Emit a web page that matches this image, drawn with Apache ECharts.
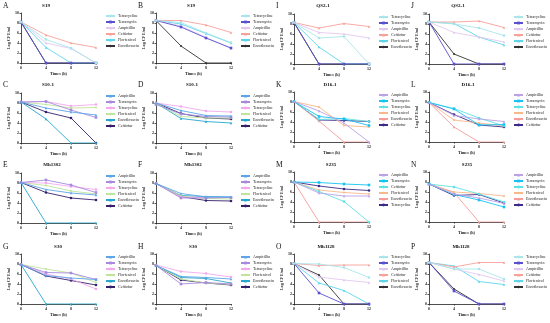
<!DOCTYPE html>
<html>
<head>
<meta charset="utf-8">
<script src="https://cdn.jsdelivr.net/npm/echarts@6/dist/echarts.min.js"></script>
<style>
  html, body { margin: 0; padding: 0; background: #fff; }
  #chart { width: 550px; height: 323px; }
</style>
</head>
<body>
<div id="chart"></div>
<script>
// time points (h)
const times = [0, 4, 8, 12];

// legend orders used by the panels
const drugs1 = ['Tetracycline', 'Terramycin', 'Ampicillin', 'Ceftiofur', 'Florfenicol', 'Enrofloxacin'];
const drugs2 = ['Ampicillin', 'Terramycin', 'Tetracycline', 'Florfenicol', 'Enrofloxacin', 'Ceftiofur'];
const drugsM = ['Ampicillin', 'Terramycin', 'Ceftiofur', 'Florfenicol', 'Enrofloxacin', 'Tetracycline'];

const panelLetters = ['A', 'B', 'C', 'D', 'E', 'F', 'G', 'H', 'I', 'J', 'K', 'L', 'M', 'N', 'O', 'P'];
const panelStrains = ['S19', 'S19', 'S10-1', 'S10-1', 'Mh1302', 'Mh1302', 'S30', 'S30',
  'QS2-1', 'QS2-1', 'D16-1', 'D16-1', 'S235', 'S235', 'Mh1128', 'Mh1128'];

// Log CFU/ml, one row per drug in legend order
const valuesA = [[8.2, 4.7, 3.0, 0], [8.2, 0, 0, 0], [8.2, 4.0, 2.9, 0], [8.2, 5.6, 4.0, 3.1], [8.2, 3.1, 0, 0], [8.2, 0, 0, 0]];
const valuesB = [[8.5, 8.1, 6.0, 4.1], [8.5, 7.2, 5.0, 3.0], [8.5, 7.4, 5.1, 2.9], [8.5, 8.5, 7.6, 6.1], [8.5, 7.8, 5.9, 4.0], [8.5, 3.4, 0, 0]];
const valuesC = [[8.2, 7.0, 6.2, 5.6], [8.2, 8.3, 6.6, 5.1], [8.2, 8.3, 7.4, 7.7], [8.2, 7.7, 7.0, 7.1], [8.2, 4.8, 0, 0], [8.2, 6.2, 5.0, 0]];
const valuesD = [[8.0, 6.5, 5.5, 5.4], [7.7, 5.8, 5.3, 5.2], [8.0, 7.3, 6.4, 6.2], [8.0, 5.3, 5.0, 5.0], [8.0, 4.9, 4.3, 4.0], [8.0, 5.9, 5.0, 4.8]];
const valuesE = [[8.1, 6.7, 6.0, 5.6], [8.1, 8.6, 7.6, 6.1], [8.1, 8.0, 7.3, 6.7], [8.1, 7.5, 6.4, 5.8], [8.1, 0, 0, 0], [8.1, 6.1, 5.0, 4.6]];
const valuesF = [[7.9, 5.9, 5.2, 5.2], [7.9, 5.0, 5.0, 5.1], [7.9, 5.2, 5.1, 5.1], [7.9, 5.4, 4.9, 4.8], [7.9, 5.5, 5.3, 5.2], [7.9, 5.3, 4.5, 4.4]];
const valuesG = [[7.9, 5.7, 5.2, 4.9], [7.9, 6.3, 6.2, 4.9], [7.9, 6.0, 5.0, 3.0], [7.9, 7.0, 6.2, 4.3], [7.9, 0, 0, 0], [7.9, 5.6, 4.7, 3.8]];
const valuesH = [[7.7, 5.5, 5.3, 5.0], [7.7, 4.0, 4.3, 4.0], [7.8, 6.5, 6.1, 5.4], [7.7, 5.0, 4.2, 3.9], [7.7, 5.3, 5.1, 4.2], [7.7, 4.8, 4.2, 3.8]];
const valuesI = [[8.3, 5.2, 5.5, 0], [8.3, 0, 0, 0], [8.3, 6.3, 6.0, 5.2], [8.3, 7.2, 8.1, 7.5], [8.3, 3.4, 0, 0], [8.3, 0, 0, 0]];
const valuesJ = [[8.4, 8.0, 7.2, 5.7], [8.4, 0, 0, 0], [8.4, 6.3, 5.4, 4.4], [8.4, 8.4, 8.6, 7.3], [8.4, 8.1, 5.4, 3.8], [8.4, 2.0, 0, 0]];
const valuesK = [[8.1, 6.2, 3.8, 0], [8.1, 5.1, 4.6, 3.3], [8.1, 4.5, 4.7, 4.1], [8.1, 7.0, 3.3, 3.0], [8.1, 4.2, 0, 0], [8.1, 4.4, 4.3, 4.1]];
const valuesL = [[7.9, 5.3, 4.6, 4.1], [7.9, 6.6, 3.4, 3.5], [7.9, 6.7, 4.8, 3.2], [7.9, 4.4, 3.8, 3.2], [7.9, 3.0, 0, 0], [7.9, 5.5, 3.4, 3.0]];
const valuesM = [[8.0, 5.8, 5.2, 5.2], [8.0, 7.9, 7.6, 7.4], [8.0, 6.1, 4.1, 0], [8.0, 6.4, 5.9, 5.6], [8.0, 0, 0, 0], [8.0, 7.2, 6.6, 6.3]];
const valuesN = [[7.6, 5.6, 4.8, 3.7], [7.6, 5.5, 4.4, 3.0], [7.6, 7.0, 5.6, 4.0], [7.6, 6.0, 5.7, 5.2], [7.6, 5.9, 0, 0], [7.6, 5.3, 5.5, 3.8]];
const valuesO = [[8.1, 8.0, 7.3, 5.3], [8.1, 2.2, 0, 0], [8.1, 5.4, 4.8, 4.3], [8.1, 7.7, 7.8, 7.8], [8.1, 4.2, 2.7, 0], [8.1, 5.8, 0, 0]];
const valuesP = [[8.3, 7.0, 7.0, 5.0], [8.3, 2.6, 0, 0], [8.3, 7.0, 5.9, 4.6], [8.3, 7.4, 8.3, 8.3], [8.3, 7.6, 4.5, 3.9], [8.3, 3.0, 0, 0]];

const panelDrugs = [drugs1, drugs1, drugs2, drugs2, drugs2, drugs2, drugs2, drugs2,
  drugs1, drugs1, drugs2, drugs2, drugsM, drugs2, drugs1, drugs1];
const panelValues = [valuesA, valuesB, valuesC, valuesD, valuesE, valuesF, valuesG, valuesH,
  valuesI, valuesJ, valuesK, valuesL, valuesM, valuesN, valuesO, valuesP];

// colour schemes (one per legend style)
const colors1 = ['#a8e6ea', '#5a4fcf', '#e2c8ef', '#f6a29b', '#5dd6ea', '#333333'];
const colors2 = ['#5ea5e6', '#a78ade', '#f3a9ec', '#bfe49a', '#27a7cd', '#34206a'];
const colors3 = ['#b9a2e6', '#16c3f2', '#62e1e4', '#f6b98b', '#f49c9a', '#3c2b88'];
const symbols1 = ['circle', 'rect', 'triangle', 'triangle', 'triangle', 'diamond'];
const symbols2 = ['triangle', 'rect', 'circle', 'diamond', 'triangle', 'circle'];
const panelColors = [colors1, colors1, colors2, colors2, colors2, colors2, colors2, colors2,
  colors1, colors1, colors3, colors3, colors3, colors3, colors1, colors1];

// layout
const colLeft = [21, 156, 294, 429];
const rowTopLeft = [13, 93, 173, 254];
const rowTopRight = [14, 92, 172, 254];
const letterX = [3, 138, 276, 411];
const headY = [2, 81, 161, 243];
const titleCenter = [46, 191, 48, 192, 52, 193, 58, 193, 323, 458, 330, 468, 331, 467, 326, 461];
const panelCell = [[0, 0], [1, 0], [0, 1], [1, 1], [0, 2], [1, 2], [0, 3], [1, 3],
  [2, 0], [3, 0], [2, 1], [3, 1], [2, 2], [3, 2], [2, 3], [3, 3]];

const FONT = 'Liberation Serif';
const grids = [], xAxes = [], yAxes = [], legends = [], titles = [], series = [];

panelLetters.forEach((letter, i) => {
  const [c, r] = panelCell[i];
  const top = c < 2 ? rowTopLeft[r] : rowTopRight[r];
  const left = colLeft[c];
  grids.push({ left: left, top: top, width: 75, height: 50 });

  xAxes.push({
    gridIndex: i, type: 'value', min: 0, max: 12, interval: 4,
    name: 'Times (h)', nameLocation: 'middle', nameGap: 9,
    nameTextStyle: { fontFamily: FONT, fontSize: 4.2, fontWeight: 'bold', color: '#222' },
    axisLine: { lineStyle: { color: '#222', width: 0.8 } },
    axisTick: { length: 1.5, lineStyle: { color: '#222', width: 0.8 } },
    axisLabel: { fontFamily: FONT, fontSize: 4, fontWeight: 'bold', color: '#222', margin: 2.5 },
    splitLine: { show: false }
  });
  yAxes.push({
    gridIndex: i, type: 'value', min: 0, max: 10, interval: 2,
    name: 'Log CFU/ml', nameLocation: 'middle', nameGap: 9,
    nameTextStyle: { fontFamily: FONT, fontSize: 4.2, fontWeight: 'bold', color: '#222' },
    axisLine: { show: true, lineStyle: { color: '#222', width: 0.8 } },
    axisTick: { show: true, length: 1.5, lineStyle: { color: '#222', width: 0.8 } },
    axisLabel: { fontFamily: FONT, fontSize: 4, fontWeight: 'bold', color: '#222', margin: 2 },
    splitLine: { show: false }
  });

  titles.push({
    text: letter, left: letterX[c], top: headY[r], padding: 0,
    textStyle: { fontFamily: FONT, fontSize: 7.5, fontWeight: 'normal', color: '#111' }
  });
  titles.push({
    text: panelStrains[i], left: titleCenter[i], top: headY[r] + 1, padding: 0,
    textAlign: 'center',
    textStyle: { fontFamily: FONT, fontSize: 5, fontWeight: 'bold', color: '#111' }
  });

  const drugs = panelDrugs[i];
  const cols = panelColors[i];
  const syms = drugs === drugs1 ? symbols1 : symbols2;
  const names = drugs.map(d => letter + '|' + d);
  legends.push({
    orient: 'vertical', left: left + 84, top: top + 1, padding: 0,
    itemWidth: 9, itemHeight: 3.5, itemGap: 2,
    data: names,
    formatter: n => n.split('|')[1],
    textStyle: { fontFamily: FONT, fontSize: 4, lineHeight: 4, color: '#222', padding: [0, 0, 0, -2] }
  });

  drugs.forEach((d, k) => {
    series.push({
      type: 'line', name: names[k],
      xAxisIndex: i, yAxisIndex: i,
      data: times.map((t, j) => [t, panelValues[i][k][j]]),
      symbol: syms[k], symbolSize: 2.6,
      itemStyle: { color: cols[k] },
      lineStyle: { color: cols[k], width: 0.9 },
      z: 2 + (drugs.length - k)
    });
  });
});

const chart = echarts.init(document.getElementById('chart'));
chart.setOption({
  animation: false,
  backgroundColor: '#fff',
  title: titles,
  grid: grids,
  xAxis: xAxes,
  yAxis: yAxes,
  legend: legends,
  series: series
});
</script>
</body>
</html>
